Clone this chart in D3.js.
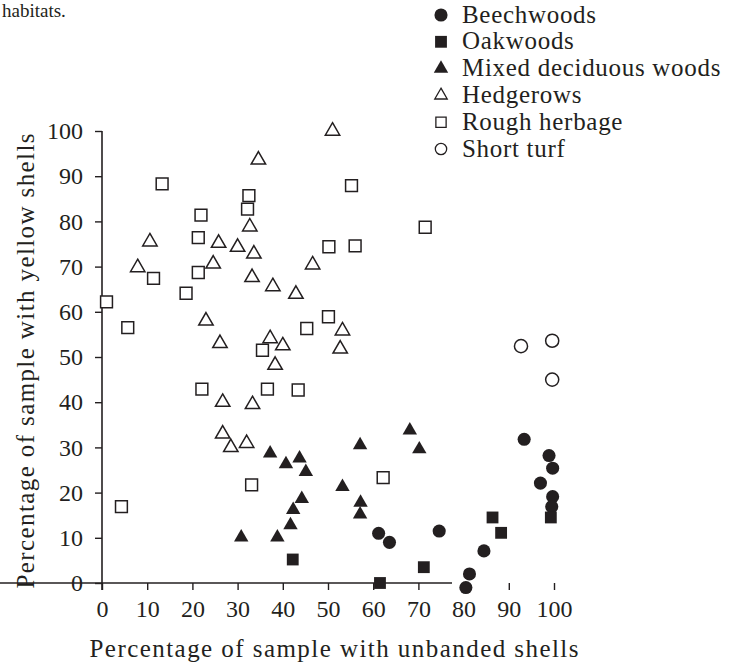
<!DOCTYPE html>
<html>
<head>
<meta charset="utf-8">
<script src="https://cdn.jsdelivr.net/npm/d3@7"></script>
<style>
  body { margin: 0; background: #fff; }
  svg text { font-family: "Liberation Serif", "DejaVu Serif", serif; fill: #231f20; }
</style>
</head>
<body>
<svg id="chart" width="732" height="665"></svg>
<script>
const width = 732, height = 665;
const ink = "#231f20";

// values: [unbanded %, yellow %]
const beechwoods = [[61.2, 11], [63.6, 9], [74.6, 11.5], [80.5, -1], [81.3, 2], [84.5, 7.1],
    [93.4, 31.8], [97.0, 22.1], [98.9, 28.2], [99.7, 25.4], [99.7, 19.1], [99.5, 16.9]];
const oakwoods = [[42.2, 5.2], [61.5, 0], [71.2, 3.5], [86.4, 14.5], [88.3, 11.1], [99.3, 14.5]];
const mixedWoods = [[30.8, 10.1], [37.2, 28.7], [38.8, 10.1], [40.7, 26.3], [41.7, 12.8], [42.3, 16.2],
    [43.7, 27.6], [44.2, 18.6], [45.1, 24.6], [53.2, 21.3], [57.1, 30.5], [57.2, 17.8], [57.1, 15.2],
    [68.1, 33.8], [70.2, 29.6]];
const hedgerows = [[7.9, 69.8], [10.6, 75.5], [23.0, 58], [24.6, 70.6], [25.8, 75.2], [26.1, 53],
    [26.7, 40], [26.7, 33], [28.5, 30], [30.0, 74.3], [32, 30.9], [32.7, 78.8], [33.2, 67.6],
    [33.3, 39.5], [33.6, 72.8], [34.6, 93.6], [37.2, 54.1], [37.8, 65.6], [38.3, 48.2], [40, 52.5],
    [42.9, 63.9], [46.6, 70.4], [51, 100], [52.7, 51.8], [53.2, 55.8]];
const roughHerbage = [[1.0, 62.2], [4.3, 16.9], [5.7, 56.5], [11.4, 67.4], [13.3, 88.3], [18.6, 64.1],
    [21.3, 76.4], [21.3, 68.7], [21.9, 81.4], [22.1, 42.9], [32.2, 82.7], [32.5, 85.7], [33.1, 21.7],
    [35.5, 51.5], [36.6, 42.9], [43.4, 42.7], [45.3, 56.3], [50.1, 58.9], [50.2, 74.4], [55.2, 87.9],
    [56.0, 74.6], [62.2, 23.3], [71.5, 78.7]];
const shortTurf = [[92.7, 52.4], [99.6, 53.6], [99.6, 45]];

const tickValues = [0, 10, 20, 30, 40, 50, 60, 70, 80, 90, 100];

const series = [
    {name: "Beechwoods", data: beechwoods, shape: d3.symbolCircle, filled: true},
    {name: "Oakwoods", data: oakwoods, shape: d3.symbolSquare, filled: true},
    {name: "Mixed deciduous woods", data: mixedWoods, shape: d3.symbolTriangle, filled: true},
    {name: "Hedgerows", data: hedgerows, shape: d3.symbolTriangle, filled: false},
    {name: "Rough herbage", data: roughHerbage, shape: d3.symbolSquare, filled: false},
    {name: "Short turf", data: shortTurf, shape: d3.symbolCircle, filled: false}
];

const symbolSize = {circle: 135, square: 140, triangle: 90};
function sizeOf(shape, k) {
    const s = shape === d3.symbolCircle ? symbolSize.circle
        : shape === d3.symbolSquare ? symbolSize.square : symbolSize.triangle;
    return s * (k || 1);
}

const x = d3.scaleLinear().domain([0, 100]).range([102, 554]);
const y = d3.scaleLinear().domain([0, 100]).range([583, 131]);

const svg = d3.select("#chart");

// caption fragment at the top edge
svg.append("text")
    .attr("x", 2).attr("y", 17)
    .style("font-size", "19px")
    .text("habitats.");

const xAxis = svg.append("g")
    .attr("transform", `translate(0,${y(0)})`)
    .call(d3.axisBottom(x).tickValues(tickValues).tickSize(7).tickSizeOuter(0).tickPadding(10));
const yAxis = svg.append("g")
    .attr("transform", `translate(${x(0)},0)`)
    .call(d3.axisLeft(y).tickValues(tickValues).tickSize(7).tickSizeOuter(0).tickPadding(12));

[xAxis, yAxis].forEach(g => {
    g.select(".domain").attr("stroke", ink).attr("stroke-width", 1.6);
    g.selectAll(".tick line").attr("stroke", ink).attr("stroke-width", 1.4);
    g.selectAll(".tick text")
        .style("font-family", '"Liberation Serif", serif')
        .style("font-size", "24px")
        .attr("fill", ink);
});
// y domain continues down to the x tick length, x domain to the y tick
yAxis.select(".domain").attr("d", `M0,${y(100)}V${y(0) + 7}`);
xAxis.select(".domain").attr("d", `M-7,0H${x(100) - x(0)}`);

svg.append("text")
    .attr("transform", `translate(34,361) rotate(-90)`)
    .attr("text-anchor", "middle")
    .attr("textLength", 455)
    .attr("lengthAdjust", "spacing")
    .style("font-size", "25px")
    .text("Percentage of sample with yellow shells");

svg.append("text")
    .attr("x", 334)
    .attr("y", 657)
    .attr("text-anchor", "middle")
    .attr("textLength", 489)
    .attr("lengthAdjust", "spacing")
    .style("font-size", "25px")
    .text("Percentage of sample with unbanded shells");

// points
series.forEach(s => {
    svg.append("g")
        .selectAll("path")
        .data(s.data)
        .enter().append("path")
        .attr("transform", d => `translate(${x(d[0])},${y(d[1])})`)
        .attr("d", d3.symbol().type(s.shape).size(sizeOf(s.shape)))
        .attr("fill", s.filled ? ink : "#fff")
        .attr("stroke", ink)
        .attr("stroke-width", s.filled ? 0 : 1.5);
});

// legend
const legend = svg.append("g").attr("transform", "translate(441,15)");
const rows = legend.selectAll("g")
    .data(series)
    .enter().append("g")
    .attr("transform", (d, i) => `translate(0,${i * 26.8})`);
rows.append("path")
    .attr("d", d => d3.symbol().type(d.shape).size(sizeOf(d.shape, d.filled ? 1.0 : 0.75))())
    .attr("fill", d => d.filled ? ink : "#fff")
    .attr("stroke", ink)
    .attr("stroke-width", d => d.filled ? 0 : 1.3);
rows.append("text")
    .attr("x", 21)
    .attr("y", 7.5)
    .style("font-size", "25px")
    .style("letter-spacing", "0.7px")
    .text(d => d.name);
</script>
</body>
</html>
